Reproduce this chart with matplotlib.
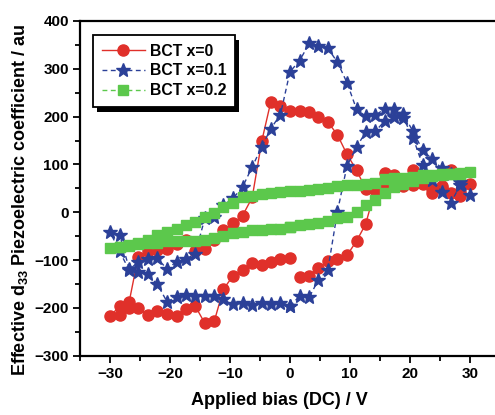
import numpy as np
import matplotlib
matplotlib.use('Agg')
import matplotlib.pyplot as plt
from matplotlib.patches import Rectangle
from matplotlib.ticker import MultipleLocator

plt.rcParams['font.family'] = ['Liberation Sans', 'DejaVu Sans']
plt.rcParams['font.weight'] = 'bold'
plt.rcParams['mathtext.fontset'] = 'custom'
plt.rcParams['mathtext.rm'] = 'Liberation Sans:bold'
plt.rcParams['mathtext.it'] = 'Liberation Sans:bold'
plt.rcParams['mathtext.bf'] = 'Liberation Sans:bold'

nan = np.nan

# bias steps of one half sweep (V); the loop runs 0 -> +30 -> -30 -> 0
v_half = [0.0, 1.6, 3.2, 4.7, 6.3, 7.9, 9.5, 11.1, 12.6, 14.2,
          15.8, 17.4, 18.9, 20.5, 22.1, 23.7, 25.3, 26.8, 28.4, 30.0]

# BCT x=0
red_up = [nan, -135, -133, -116, -102, -98, -90, -60, -25, 47,
          83, 78, 55, 57, 60, 41, 50, 40, 34, 59]
red_down = [43, 88, 54, 48, 70, 88, 70, 65, 60, 55,
            49, 88, 121, 162, 189, 200, 210, 212, 212,
            222, 231, 149, 31, -7, -23, -37, -58, -77, -82,
            -57, -66, -77, -79, -82, -93, -187, -196, -218]
red_back = [-215, -200, -200, -215, -207, -213, -216, -203, -196, -232,
            -227, -161, -133, -121, -107, -110, -103, -98, -96]

# BCT x=0.1
blue_up = [-197, -175, -178, -142, -121, 1, 97, 137, 167, 169,
           191, 200, 197, 156, 99, 68, 43, 20, 57, 36]
blue_down = [64, 80, 92, 111, 130, 169, 205, 216, 216, 203,
             201, 215, 271, 314, 343, 348, 353, 317, 294,
             204, 175, 137, 95, 53, 29, 15, -9, -13, -87,
             -98, -103, -119, -96, -98, -103, -121, -82, -41]
blue_back = [-47, -118, -124, -130, -151, -187, -177, -173, -175, -175,
             -176, -182, -192, -190, -194, -189, -192, -190, -197]

# BCT x=0.2
green_up = [-31, -27, -24, -22, -18, -13, -10, 1, 15, 26,
            40, 52, 60, 66, 72, 75, 77, 79, 80, 84]
green_down = [82, 80, 80, 77, 77, 74, 72, 71, 70, 62,
              60, 58, 57, 55, 50, 48, 47, 45, 45,
              43, 41, 39, 35, 31, 20, 10, -2, -9, -20,
              -27, -34, -41, -47, -58, -65, -68, -72, -75]
green_back = [-73, -70, -67, -65, -64, -61, -61, -61, -60, -58,
              -54, -50, -44, -42, -38, -37, -36, -34, -31]

# full bias path
bias = (v_half
        + v_half[-2::-1]
        + [-v for v in v_half[1:]]
        + [-v for v in v_half[-2::-1]])

red = red_up + red_down + red_back
blue = blue_up + blue_down + blue_back
green = green_up + green_down + green_back

fig = plt.figure(figsize=(4.95, 4.15), dpi=100)
ax = fig.add_axes([80 / 495, (415 - 355.7) / 415, 420 / 495, (355.7 - 21) / 415])

ax.plot(bias, red, '-o', color='#e0302a', ms=8, lw=1.0, label='BCT x=0')
ax.plot(bias, blue, '--*', color='#2b4098', ms=10.5, lw=1.0, dashes=(3.5, 2.5),
        label='BCT x=0.1')
ax.plot(bias, green, '--s', color='#5cc84c', ms=7.5, lw=1.0, dashes=(3.5, 2.5),
        label='BCT x=0.2')

ax.set_xlim(-35, 35)
ax.set_ylim(-300, 400)
ax.xaxis.set_major_locator(MultipleLocator(10))
ax.xaxis.set_minor_locator(MultipleLocator(5))
ax.yaxis.set_major_locator(MultipleLocator(100))
ax.yaxis.set_minor_locator(MultipleLocator(50))
ax.tick_params(which='both', direction='out', top=False, right=False, width=1.3)
ax.tick_params(which='major', length=5, labelsize=11, pad=3)
ax.tick_params(which='minor', length=3.5)
for s in ax.spines.values():
    s.set_linewidth(1.6)

ax.set_xlabel('Applied bias (DC) / V', fontsize=13, fontweight='bold')
ax.set_ylabel(r'Effective d$_{33}$ Piezoelectric coefficient / au',
              fontsize=13, fontweight='bold')
ax.xaxis.set_label_coords((279 - 80) / 420, (355.7 - 392) / 334.7)
ax.yaxis.set_label_coords((30 - 80) / 420, (355.7 - 200) / 334.7)

leg = ax.legend(loc='upper left', bbox_to_anchor=(13 / 420, (355.7 - 35) / 334.7),
                borderaxespad=0, fancybox=False, edgecolor='black',
                framealpha=1, fontsize=11.3, handlelength=2.75,
                handletextpad=0.3, labelspacing=0.3, borderpad=0.55)
leg.get_frame().set_linewidth(1.3)

# solid black drop shadow under the legend box
fig.canvas.draw()
bb = leg.get_frame().get_window_extent().transformed(ax.transAxes.inverted())
dx = 4 / 420
dy = 5 / 334.7
ax.add_patch(Rectangle((bb.x0 + dx, bb.y0 - dy), bb.width, bb.height,
                       transform=ax.transAxes, facecolor='black',
                       edgecolor='none', zorder=4.9, clip_on=False))

fig.savefig('out.png', dpi=100)
